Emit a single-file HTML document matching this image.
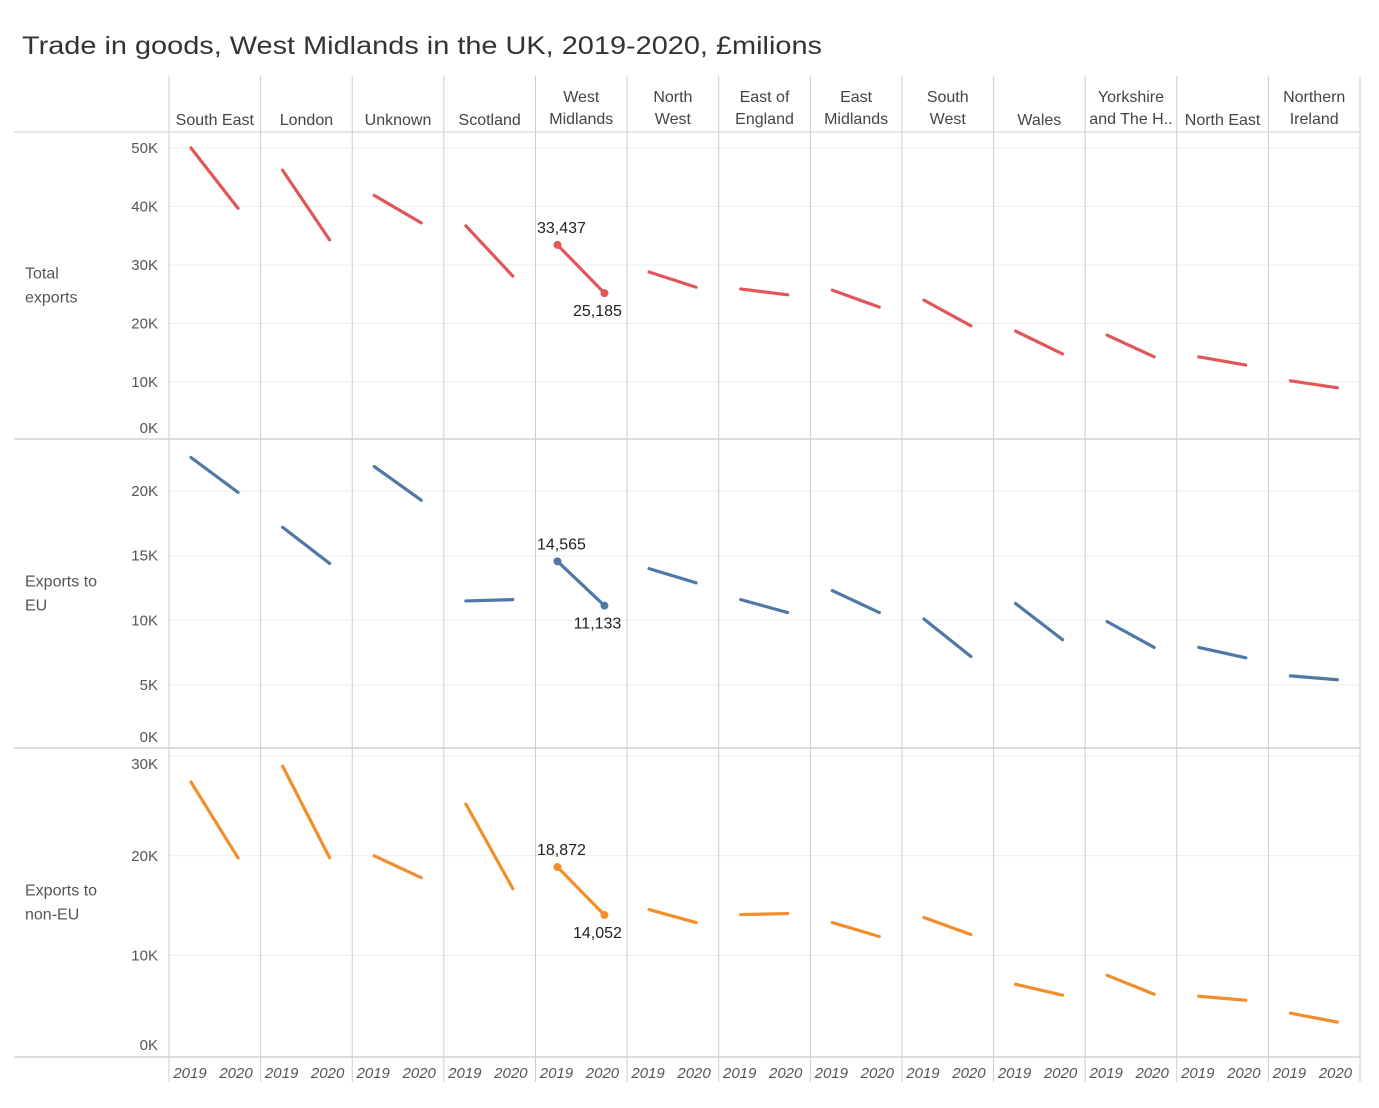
<!DOCTYPE html>
<html><head><meta charset="utf-8"><style>
body{margin:0;background:#fff;font-family:"Liberation Sans",sans-serif}
</style></head><body>
<svg id="c" width="1379" height="1103" style="font-family:'Liberation Sans',sans-serif"></svg>
<script>
const regions=["South East","London","Unknown","Scotland","West Midlands","North West","East of England","East Midlands","South West","Wales","Yorkshire and The H..","North East","Northern Ireland"];
const headerLines=[["South East"],["London"],["Unknown"],["Scotland"],["West","Midlands"],["North","West"],["East of","England"],["East","Midlands"],["South","West"],["Wales"],["Yorkshire","and The H.."],["North East"],["Northern","Ireland"]];
const years=["2019","2020"];
const total2019=[50000,46200,41900,36700,33437,28800,25900,25700,24000,18700,18000,14300,10200];
const total2020=[39700,34300,37200,28100,25185,26200,24900,22800,19600,14800,14300,12900,9000];
const eu2019=[22600,17200,21900,11500,14565,14000,11600,12300,10100,11300,9900,7900,5700];
const eu2020=[19900,14400,19300,11600,11133,12900,10600,10600,7200,8500,7900,7100,5400];
const non2019=[27400,29000,20000,25200,18872,14600,14100,13300,13800,7100,8000,5900,4200];
const non2020=[19800,19800,17800,16700,14052,13300,14200,11900,12100,6000,6100,5500,3300];
const totalTicks=[0,10000,20000,30000,40000,50000];
const euTicks=[0,5000,10000,15000,20000];
const nonTicks=[0,10000,20000,30000];
const NS="http://www.w3.org/2000/svg",svg=document.getElementById('c');
function el(t,a,txt){const e=document.createElementNS(NS,t);for(const k in a)e.setAttribute(k,a[k]);if(txt!=null)e.textContent=txt;svg.appendChild(e);return e;}
const x0=169,x1=1360,cw=(x1-x0)/13;
const colX=i=>x0+i*cw;
const yearX=(i,j)=>colX(i)+22+j*47;
const rows=[
 {label:["Total","exports"],top:132,bot:439,zero:440.5,k:0.00585,ticks:totalTicks,a:total2019,b:total2020,color:"#e15759",name:"total-exports",minLabel:433,maxLabel:148},
 {label:["Exports to","EU"],top:439,bot:748,zero:749.5,k:0.01292,ticks:euTicks,a:eu2019,b:eu2020,color:"#4e79a7",name:"exports-eu",minLabel:742,maxLabel:120},
 {label:["Exports to","non-EU"],top:748,bot:1057,zero:1055,k:0.00996,ticks:nonTicks,a:non2019,b:non2020,color:"#f28e2b",name:"exports-non-eu",minLabel:1050,maxLabel:762}
];
let t=el('text',{x:22,y:54,'font-size':25,fill:'#333',textLength:800,lengthAdjust:'spacingAndGlyphs'},'Trade in goods, West Midlands in the UK, 2019-2020, £milions');

headerLines.forEach((ls,i)=>{const cx=colX(i)+cw/2;
 ls.forEach((l,j)=>{const y=ls.length===1?125:(102+j*22);const e=el('text',{x:cx,y:y,'text-anchor':'middle','font-size':16,fill:'#444'},l);
 });});
el('line',{x1:14,x2:1360,y1:132,y2:132,stroke:'#ccc'});
rows.forEach(r=>{
 const yv=v=>r.zero-v*r.k;
 r.ticks.forEach(v=>{const y=yv(v);
  if(v>0){const g=el('line',{x1:x0,x2:x1,y1:y,y2:y,stroke:'#eee'});}
  let ly=Math.min(y+5,r.minLabel);ly=Math.max(ly,r.top+21);
  const e=el('text',{x:158,y:ly,'text-anchor':'end','font-size':15,fill:'#555'},v===0?'0K':(v/1000)+'K');
  });
 r.label.forEach((l,j)=>{const e=el('text',{x:25,y:(r.top+r.bot)/2-7+j*24,'font-size':16,fill:'#555'},l);
  });
 el('line',{x1:14,x2:1360,y1:r.bot,y2:r.bot,stroke:'#bbb'});
 r.a.forEach((v,i)=>{const ln=el('line',{x1:yearX(i,0),y1:yv(v),x2:yearX(i,1),y2:yv(r.b[i]),stroke:r.color,'stroke-width':3.2,'stroke-linecap':'round'});
  
  if(regions[i]==="West Midlands"){
   [[0,v],[1,r.b[i]]].forEach(([j,val])=>{const c=el('circle',{cx:yearX(i,j),cy:yv(val),r:4,fill:r.color});
    
    const lb=el('text',{x:yearX(i,j)+(j?-7:4),y:j?yv(val)+23:yv(val)-12,'text-anchor':'middle','font-size':16,fill:'#222'},val.toLocaleString('en-US'));
    });
  }});
});
for(let i=0;i<=13;i++){el('line',{x1:colX(i),x2:colX(i),y1:76,y2:1082,stroke:'#ccc'});}
regions.forEach((r,i)=>years.forEach((yr,j)=>{const e=el('text',{x:colX(i)+21+j*46,y:1078,'text-anchor':'middle','font-size':15,'font-style':'italic',fill:'#555'},yr);
 }));
</script>
</body></html>
